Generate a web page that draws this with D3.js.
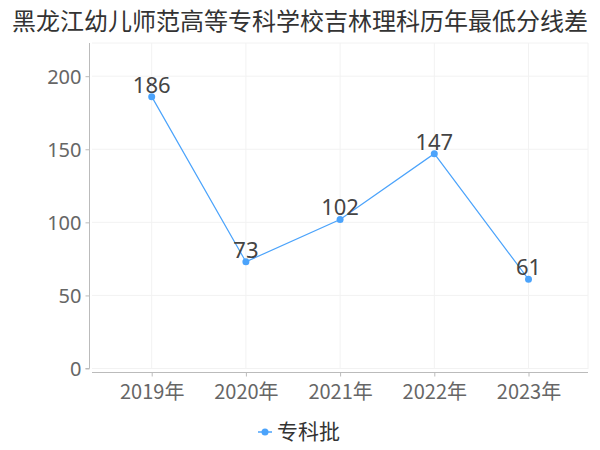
<!DOCTYPE html>
<html><head><meta charset="utf-8">
<script src="https://cdn.jsdelivr.net/npm/d3@7"></script>
<style>body{margin:0;background:#fff}svg{display:block}text{font-family:"Noto Sans CJK SC","Noto Sans",sans-serif}</style>
</head><body><svg id="c" width="600" height="450"></svg>
<script>
const title = "黑龙江幼儿师范高等专科学校吉林理科历年最低分线差";
const categories = ["2019年","2020年","2021年","2022年","2023年"];
const values = [186, 73, 102, 147, 61];
const seriesName = "专科批";
const yTicks = [0, 50, 100, 150, 200];

const svg = d3.select("#c");
const color = "#4ba3fb";
const pLeft = 92, pRight = 588, pTop = 43, pBottom = 369;
const x = d3.scalePoint().domain(categories).range([151.7, 528.5]);
const y = d3.scaleLinear().domain([0, 200]).range([368.5, 76.2]);

// grid
const g = svg.append("g");
g.selectAll(".hg").data(yTicks).enter().append("line")
  .attr("x1", pLeft).attr("x2", pRight).attr("y1", d => y(d)).attr("y2", d => y(d))
  .attr("stroke", "#f2f2f2").attr("stroke-width", 1);
g.append("line").attr("x1", pLeft).attr("x2", pRight).attr("y1", pTop).attr("y2", pTop).attr("stroke", "#f2f2f2");
g.selectAll(".vg").data(categories).enter().append("line")
  .attr("x1", d => x(d)).attr("x2", d => x(d)).attr("y1", pTop).attr("y2", pBottom)
  .attr("stroke", "#f2f2f2");
g.append("line").attr("x1", pRight).attr("x2", pRight).attr("y1", pTop).attr("y2", pBottom).attr("stroke", "#f2f2f2");

// y axis
const ya = svg.append("g").attr("transform", "translate(89.5,0)")
  .call(d3.axisLeft(y).tickValues(yTicks).tickSize(4).tickPadding(4));
ya.select(".domain").attr("stroke", "#bbb").attr("d", `M-4,${y(0)}H0V${pTop}`);
ya.selectAll(".tick line").attr("stroke", "#bbb");
ya.selectAll(".tick text").attr("fill", "#666").style("font-size", "20px")
  .style("font-family", "'Noto Sans','DejaVu Sans',sans-serif").attr("dy", "0.35em");

// x axis
const xa = svg.append("g").attr("transform", "translate(0,372.5)")
  .call(d3.axisBottom(x).tickSize(4).tickPadding(5));
xa.select(".domain").attr("stroke", "#bbb").attr("d", `M${pLeft},0H${pRight}`);
xa.selectAll(".tick line").attr("stroke", "#bbb");
xa.selectAll(".tick text").attr("fill", "#666").style("font-size", "20px").attr("dy", "0.85em");

// line
svg.append("path").datum(values)
  .attr("d", d3.line().x((d, i) => x(categories[i])).y(d => y(d)))
  .attr("fill", "none").attr("stroke", color).attr("stroke-width", 1.2);
svg.selectAll(".pt").data(values).enter().append("circle")
  .attr("cx", (d, i) => x(categories[i])).attr("cy", d => y(d)).attr("r", 3.5).attr("fill", color);
svg.selectAll(".lbl").data(values).enter().append("text")
  .attr("x", (d, i) => x(categories[i])).attr("y", d => y(d) - 4)
  .attr("text-anchor", "middle").attr("fill", "#444").style("font-size", "22px")
  .style("font-family", "'Noto Sans','DejaVu Sans',sans-serif").text(d => d);

// title
svg.append("text").attr("x", 300).attr("y", 30).attr("text-anchor", "middle")
  .attr("fill", "#333").style("font-size", "24px").text(title);

// legend
const lg = svg.append("g").attr("transform", "translate(265,432)");
lg.append("line").attr("x1", -7).attr("x2", 7).attr("stroke", color).attr("stroke-width", 1.5);
lg.append("circle").attr("r", 3.5).attr("fill", color);
lg.append("text").attr("x", 12).attr("y", 0).attr("dy", "0.35em").attr("fill", "#333")
  .style("font-size", "21px").text(seriesName);
</script></body></html>
